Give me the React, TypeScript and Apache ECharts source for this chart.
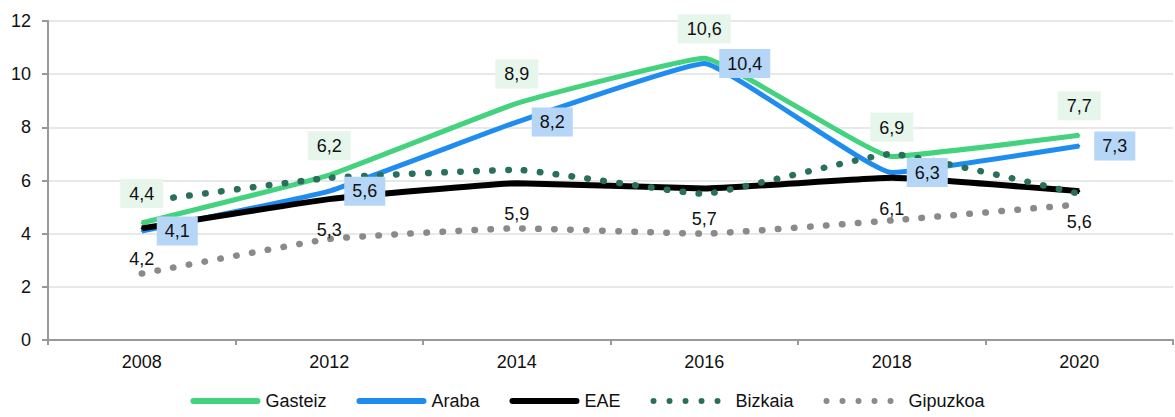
import React, { useEffect, useRef } from "react";
import * as echarts from "echarts";

const years = ["2008", "2012", "2014", "2016", "2018", "2020"];
const gasteiz = [4.4, 6.2, 8.9, 10.6, 6.9, 7.7];
const araba = [4.1, 5.6, 8.2, 10.4, 6.3, 7.3];
const eae = [4.2, 5.3, 5.9, 5.7, 6.1, 5.6];
const bizkaia = [5.2, 6.1, 6.4, 5.5, 7.0, 5.5];
const gipuzkoa = [2.5, 3.8, 4.2, 4.0, 4.5, 5.1];

const FONT = "'Liberation Sans', Arial, sans-serif";
const fmt = (p: any) => String(p.value).replace(".", ",");

const SOLID_ICON = "path://M3,0 H67 A3,3 0 0 1 67,6 H3 A3,3 0 0 1 3,0 Z";
const dot = (cx: number) => `M${cx - 3},3 A3,3 0 1 0 ${cx + 3},3 A3,3 0 1 0 ${cx - 3},3 Z`;
const DOT_ICON = "path://" + [3, 19, 35, 51, 67].map(dot).join(" ");

export default function App() {
  const ref = useRef<HTMLDivElement>(null);
  useEffect(() => {
    if (!ref.current) return;
    const chart = echarts.init(ref.current, null, { renderer: "svg" });
    const baseLabel = {
      show: true,
      formatter: fmt,
      fontFamily: FONT,
      fontSize: 18,
      color: "#111",
    };
    const C = {
      gasteiz: "#43d27d",
      araba: "#1f8cf0",
      eae: "#000000",
      bizkaia: "#2a6e5c",
      gipuzkoa: "#8a8a8a",
    };
    const dotText = { fontFamily: FONT, fontSize: 18, color: "#111", padding: [0, 0, 0, 10] };
    chart.setOption({
      animation: false,
      textStyle: { fontFamily: FONT },
      grid: { left: 48, right: 2, top: 21, bottom: 77, containLabel: false },
      legend: {
        bottom: 2,
        left: "center",
        itemWidth: 70,
        itemHeight: 6,
        itemGap: 30,
        textStyle: { fontFamily: FONT, fontSize: 18, color: "#111" },
        data: [
          { name: "Gasteiz", icon: SOLID_ICON, itemStyle: { color: C.gasteiz, borderWidth: 0 } },
          { name: "Araba", icon: SOLID_ICON, itemStyle: { color: C.araba, borderWidth: 0 } },
          { name: "EAE", icon: SOLID_ICON, itemStyle: { color: C.eae, borderWidth: 0 } },
          { name: "Bizkaia", icon: DOT_ICON, itemStyle: { color: C.bizkaia, borderWidth: 0 }, textStyle: dotText },
          { name: "Gipuzkoa", icon: DOT_ICON, itemStyle: { color: C.gipuzkoa, borderWidth: 0 }, textStyle: dotText },
        ],
      },
      xAxis: {
        type: "category",
        data: years,
        boundaryGap: true,
        axisLine: { lineStyle: { color: "#999", width: 2 } },
        axisTick: { show: true, length: 5, interval: 0, lineStyle: { color: "#999", width: 2 } },
        axisLabel: { fontFamily: FONT, fontSize: 18, color: "#111", margin: 13 },
        splitLine: { show: false },
      },
      yAxis: {
        type: "value",
        min: 0,
        max: 12,
        interval: 2,
        axisLine: { show: true, lineStyle: { color: "#999", width: 2 } },
        axisTick: { show: true, length: 6, lineStyle: { color: "#999", width: 2 } },
        axisLabel: { fontFamily: FONT, fontSize: 18, color: "#111", margin: 17 },
        splitLine: { lineStyle: { color: "#e8e8e8", width: 2 } },
      },
      series: [
        {
          name: "Gasteiz",
          type: "line",
          data: gasteiz,
          smooth: 0.1,
          symbol: "circle",
          symbolSize: 2,
          itemStyle: { color: C.gasteiz },
          lineStyle: { color: C.gasteiz, width: 5, join: "round" },
          label: {
            ...baseLabel,
            position: "top",
            distance: 14,
            backgroundColor: "#e6f6eb",
            padding: [6, 9, 5, 9],
          },
        },
        {
          name: "Araba",
          type: "line",
          data: araba,
          smooth: 0.1,
          symbol: "circle",
          symbolSize: 2,
          itemStyle: { color: C.araba },
          lineStyle: { color: C.araba, width: 5, join: "round" },
          label: {
            ...baseLabel,
            position: "right",
            distance: 14,
            backgroundColor: "#b5d6f7",
            padding: [6, 8, 5, 8],
          },
        },
        {
          name: "EAE",
          type: "line",
          data: eae,
          smooth: 0.1,
          symbol: "circle",
          symbolSize: 2,
          itemStyle: { color: C.eae },
          lineStyle: { color: C.eae, width: 6, join: "round" },
          label: {
            ...baseLabel,
            position: "bottom",
            distance: 21,
          },
        },
        {
          name: "Bizkaia",
          type: "line",
          data: bizkaia,
          smooth: 0.1,
          symbol: "none",
          itemStyle: { color: C.bizkaia },
          lineStyle: { color: C.bizkaia, width: 6.5, type: [0.5, 15.5], cap: "round" },
        },
        {
          name: "Gipuzkoa",
          type: "line",
          data: gipuzkoa,
          smooth: 0.1,
          symbol: "none",
          itemStyle: { color: C.gipuzkoa },
          lineStyle: { color: C.gipuzkoa, width: 6.5, type: [0.5, 15.5], cap: "round" },
        },
      ],
    });
    return () => chart.dispose();
  }, []);
  return <div ref={ref} style={{ width: 1175, height: 417, position: "absolute", left: 0, top: 0, background: "#fff" }} />;
}
